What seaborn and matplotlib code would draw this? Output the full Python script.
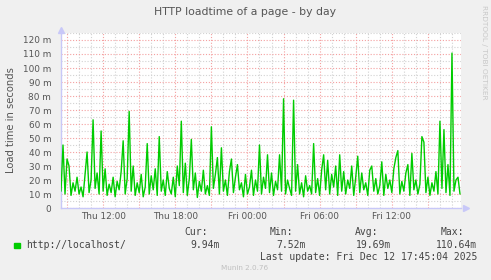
import matplotlib
matplotlib.use("Agg")
import matplotlib.pyplot as plt
import seaborn as sns
import numpy as np
import pandas as pd
from matplotlib.ticker import MultipleLocator, FixedLocator

# ---- data (load time in milliseconds, 10-minute samples from Thu 08:30) ----
start_hour = 8.5          # Thu 08:30, hours since Thu 00:00
step_hours = 1.0 / 6.0    # 10 minutes

load_a = [12, 45, 10, 35, 30, 9, 18, 12, 22, 10, 15, 8, 24, 40, 11, 20, 63, 14, 25, 10,
          55, 12, 28, 9, 17, 11, 22, 8, 19, 13, 26, 48, 10, 21, 69, 12, 30, 9, 18, 11,
          24, 8, 15, 46, 10, 23, 13, 28, 9, 51]
load_b = [12, 20, 9, 26, 14, 10, 22, 8, 30, 16, 62, 11, 32, 9, 21, 49, 13, 25, 7.52, 19,
          12, 27, 10, 16, 9, 58, 14, 24, 36, 10, 43, 12, 20, 9, 26, 35, 11, 22, 31, 13,
          18, 8, 24, 10, 15, 27, 9, 20, 12, 45]
load_c = [10, 22, 14, 38, 11, 25, 9, 19, 13, 38, 12, 78, 10, 20, 14, 9, 77, 12, 31, 10,
          18, 8, 23, 12, 16, 10, 46, 11, 21, 9, 27, 38, 13, 34, 10, 24, 15, 30, 9, 38,
          12, 26, 10, 20, 14, 30, 9, 22, 37, 11]
load_d = [25, 13, 18, 9, 27, 30, 12, 21, 10, 16, 33, 9, 24, 14, 20, 11, 28, 36, 41, 10,
          19, 12, 25, 31, 9, 39, 13, 20, 10, 17, 51, 47, 11, 22, 9, 18, 12, 26, 10, 62,
          14, 56, 11, 31, 9, 110.64, 12, 20, 22, 9.94]

values = load_a + load_b + load_c + load_d
hours = [start_hour + i * step_hours for i in range(len(values))]

x_labels = ["Thu 12:00", "Thu 18:00", "Fri 00:00", "Fri 06:00", "Fri 12:00"]
x_label_hours = [12, 18, 24, 30, 36]
y_tick_values = [0, 10, 20, 30, 40, 50, 60, 70, 80, 90, 100, 110, 120]
y_tick_labels = ["0"] + [f"{v} m" for v in y_tick_values[1:]]

series_name = "http://localhost/"
stat_cur, stat_min, stat_avg, stat_max = "9.94m", "7.52m", "19.69m", "110.64m"

df = pd.DataFrame({"hour": hours, "load": values})

# ---- figure ----
sns.set_style("white")
plt.rcParams["font.family"] = ["DejaVu Sans"]

W, H = 491, 280
fig = plt.figure(figsize=(W / 100, H / 100), dpi=100, facecolor="#F0F0F0")
L, R, T, B = 61, 461, 33, 208
ax = fig.add_axes([L / W, 1 - B / H, (R - L) / W, (B - T) / H])
ax.set_facecolor("white")

sns.lineplot(data=df, x="hour", y="load", ax=ax, color="#00CC00", linewidth=1.0, zorder=3)

ax.set_xlim(8.5, 41.75)
ax.set_ylim(0, 125)

# grid
gray = "#D2D2D2"
red = "#F4A0A0"
dots = (0, (1, 1.6))
ax.xaxis.set_minor_locator(MultipleLocator(1))
major_x = [9, 12, 15, 18, 21, 24, 27, 30, 33, 36, 39]
ax.xaxis.set_major_locator(FixedLocator(major_x))
lab_map = dict(zip(x_label_hours, x_labels))
ax.set_xticklabels([lab_map.get(h, "") for h in major_x])
ax.yaxis.set_minor_locator(MultipleLocator(5))
ax.set_yticks(y_tick_values)
ax.set_yticklabels(y_tick_labels)
ax.grid(which="minor", color=gray, linestyle=dots, linewidth=0.8)
ax.grid(which="major", color=red, linestyle=dots, linewidth=0.8)
ax.set_axisbelow(True)

ax.tick_params(which="both", length=0, labelsize=6.4, colors="#555555")
ax.tick_params(axis="y", pad=7)
ax.tick_params(axis="x", pad=3)
ax.set_xlabel("")
ax.set_ylabel("Load time in seconds", fontsize=7.2, color="#555555", labelpad=5)

for s in ["top", "right"]:
    ax.spines[s].set_visible(False)
axis_col = "#C8C8F8"
for s in ["left", "bottom"]:
    ax.spines[s].set_color(axis_col)
    ax.spines[s].set_linewidth(1.0)
ax.plot([1.012], [0], marker=">", markersize=4, color=axis_col, transform=ax.transAxes,
        clip_on=False, zorder=5)
ax.plot([0], [1.02], marker="^", markersize=4, color=axis_col, transform=ax.transAxes,
        clip_on=False, zorder=5)

# title
fig.text(245 / W, 1 - 12 / H, "HTTP loadtime of a page - by day", ha="center", va="center",
         fontsize=7.8, color="#555555")
fig.text(484 / W, 1 - 5 / H, "RRDTOOL / TOBI OETIKER", rotation=270, ha="center", va="top",
         fontsize=5.3, color="#C8C8C8")

# legend
mono = "DejaVu Sans Mono"
tc = "#444444"
fig.patches.append(plt.Rectangle((14 / W, 1 - 248 / H), 5.5 / W, 5.5 / H,
                                 transform=fig.transFigure, color="#00CC00"))
fig.text(26 / W, 1 - 245 / H, series_name, family=mono, fontsize=7.0, color=tc, va="center")
for hx, head in [(184, "Cur:"), (270, "Min:"), (355, "Avg:"), (441, "Max:")]:
    fig.text(hx / W, 1 - 232 / H, head, family=mono, fontsize=7.0, color=tc, va="center")
for vx, val in [(220, stat_cur), (306, stat_min), (391, stat_avg), (477, stat_max)]:
    fig.text(vx / W, 1 - 245 / H, val, family=mono, fontsize=7.0, color=tc, va="center", ha="right")
fig.text(477 / W, 1 - 257 / H, "Last update: Fri Dec 12 17:45:04 2025", family=mono,
         fontsize=7.0, color=tc, va="center", ha="right")
fig.text(245 / W, 1 - 268 / H, "Munin 2.0.76", fontsize=5.2, color="#C0C0C0",
         va="center", ha="center")

fig.savefig("out.png", dpi=100, facecolor=fig.get_facecolor())
